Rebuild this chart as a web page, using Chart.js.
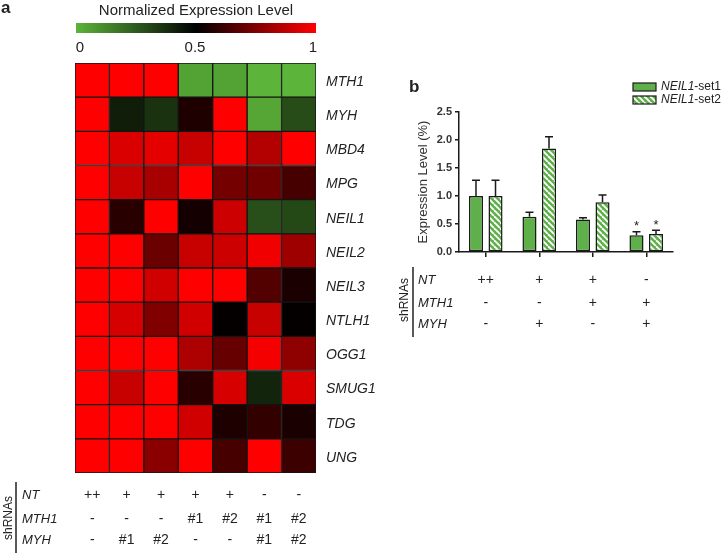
<!DOCTYPE html>
<html>
<head>
<meta charset="utf-8">
<script src="https://cdn.jsdelivr.net/npm/chart.js@4/dist/chart.umd.min.js"></script>
<style>
  body { margin:0; background:#fff; }
  #wrap { position:relative; width:723px; height:553px; }
  #heat { position:absolute; left:0; top:0; }
  #bars { position:absolute; left:380px; top:0; }
</style>
</head>
<body>
<div id="wrap">
  <canvas id="heat" width="380" height="553"></canvas>
  <canvas id="bars" width="343" height="553"></canvas>
</div>
<script>
// ---- panel a data ----
var columns = ['c1','c2','c3','c4','c5','c6','c7'];
var genes = ['MTH1','MYH','MBD4','MPG','NEIL1','NEIL2','NEIL3','NTLH1','OGG1','SMUG1','TDG','UNG'];
var expression = [
  [1, 1, 1, 0.05, 0.05, 0.0, 0.0],       // MTH1
  [1, 0.42, 0.36, 0.56, 1, 0.04, 0.29],  // MYH
  [1, 0.93, 0.95, 0.89, 1, 0.85, 1],     // MBD4
  [1, 0.89, 0.83, 1, 0.73, 0.72, 0.64],  // MPG
  [1, 0.58, 1, 0.54, 0.9, 0.28, 0.3],    // NEIL1
  [1, 1, 0.71, 0.89, 0.9, 0.97, 0.81],   // NEIL2
  [1, 1, 0.91, 1, 1, 0.66, 0.55],        // NEIL3
  [1, 0.92, 0.75, 0.91, 0.51, 0.89, 0.51], // NTLH1
  [1, 1, 1, 0.84, 0.7, 0.98, 0.78],      // OGG1
  [1, 0.89, 1, 0.58, 0.92, 0.4, 0.93],   // SMUG1
  [1, 1, 1, 0.91, 0.56, 0.6, 0.55],      // TDG
  [1, 1, 0.77, 1, 0.64, 1, 0.62]         // UNG
];
var ntA   = ['++','+','+','+','+','-','-'];
var mth1A = ['-','-','-','#1','#2','#1','#2'];
var myhA  = ['-','#1','#2','-','-','#1','#2'];

// ---- panel b data ----
var groups = ['g1','g2','g3','g4'];
var set1 = [1.0, 0.63, 0.58, 0.30];
var set1Err = [0.28, 0.08, 0.03, 0.06];
var set2 = [1.0, 1.85, 0.89, 0.32];
var set2Err = [0.28, 0.21, 0.13, 0.07];
var stars = ['', '', '', '*'];
var ntB   = ['++','+','+','-'];
var mth1B = ['-','-','+','+'];
var myhB  = ['-','+','-','+'];

var FONT = "'Liberation Sans', Arial, sans-serif";
var GREEN = [92, 180, 58];

function heatColor(v){
  var r, g, b;
  if (v < 0.5) {
    var t = (0.5 - v) / 0.5;
    r = GREEN[0]*t; g = GREEN[1]*t; b = GREEN[2]*t;
  } else {
    var t2 = (v - 0.5) / 0.5;
    r = 255*t2; g = 0; b = 0;
  }
  return 'rgb(' + Math.round(r) + ',' + Math.round(g) + ',' + Math.round(b) + ')';
}

// stacked bars, one dataset per gene (bottom row first)
var heatSets = [];
for (var k = genes.length - 1; k >= 0; k--) {
  heatSets.push({
    label: genes[k],
    data: columns.map(function(){ return 1; }),
    backgroundColor: expression[k].map(heatColor),
    borderColor: '#141414',
    borderWidth: 1,
    borderSkipped: false,
    categoryPercentage: 1,
    barPercentage: 1
  });
}

var heatDecor = {
  id: 'heatDecor',
  afterDraw: function(chart){
    var ctx = chart.ctx;
    var xs = chart.scales.x;
    ctx.save();
    ctx.fillStyle = '#222';
    // panel letter
    ctx.font = 'bold 17px ' + FONT;
    ctx.textAlign = 'left'; ctx.textBaseline = 'middle';
    ctx.fillText('a', 1, 8);
    // colour bar
    ctx.font = '15px ' + FONT;
    ctx.textAlign = 'center';
    ctx.fillText('Normalized Expression Level', 196, 11);
    var grad = ctx.createLinearGradient(76, 0, 316, 0);
    grad.addColorStop(0, heatColor(0));
    grad.addColorStop(0.5, heatColor(0.5));
    grad.addColorStop(1, heatColor(1));
    ctx.fillStyle = grad;
    ctx.fillRect(76, 23, 240, 10);
    ctx.fillStyle = '#222';
    ctx.fillText('0', 80, 48);
    ctx.fillText('0.5', 195, 48);
    ctx.fillText('1', 313, 48);
    // shRNA table
    var rows = [ntA, mth1A, myhA];
    var names = ['NT', 'MTH1', 'MYH'];
    var ys = [495, 519, 540];
    for (var r = 0; r < 3; r++) {
      ctx.font = 'italic 13px ' + FONT;
      ctx.textAlign = 'left';
      ctx.fillText(names[r], 22, ys[r]);
      ctx.font = '14px ' + FONT;
      ctx.textAlign = 'center';
      for (var i = 0; i < columns.length; i++) {
        ctx.fillText(rows[r][i], xs.getPixelForValue(i), ys[r]);
      }
    }
    ctx.strokeStyle = '#222'; ctx.lineWidth = 1.5;
    ctx.beginPath(); ctx.moveTo(16, 482); ctx.lineTo(16, 553); ctx.stroke();
    ctx.translate(9, 518); ctx.rotate(-Math.PI/2);
    ctx.font = '12px ' + FONT; ctx.textAlign = 'center';
    ctx.fillText('shRNAs', 0, 0);
    ctx.restore();
  }
};

new Chart(document.getElementById('heat'), {
  type: 'bar',
  data: { labels: columns, datasets: heatSets },
  options: {
    responsive: false,
    animation: false,
    layout: { padding: { left: 75, top: 63, bottom: 80, right: 0 } },
    plugins: { legend: { display: false }, tooltip: { enabled: false } },
    scales: {
      x: { stacked: true, display: false },
      y: {
        stacked: true, position: 'right', min: 0, max: 12,
        afterFit: function(s){ s.width = 64; },
        afterBuildTicks: function(s){
          s.ticks = genes.map(function(g, i){ return { value: i + 0.5 }; });
        },
        grid: { display: false, drawTicks: false },
        border: { display: false },
        ticks: {
          padding: 10,
          labelOffset: 2,
          color: '#222',
          font: { family: FONT, size: 14, style: 'italic' },
          callback: function(v){ return genes[genes.length - 1 - Math.floor(v)]; }
        }
      }
    }
  },
  plugins: [heatDecor]
});

// ---- panel b ----
var BARGREEN = '#5fb04a';
function stripePattern(){
  var c = document.createElement('canvas');
  c.width = 6; c.height = 6;
  var p = c.getContext('2d');
  p.fillStyle = BARGREEN; p.fillRect(0, 0, 6, 6);
  p.strokeStyle = '#fff'; p.lineWidth = 1.8;
  for (var k = -1; k <= 1; k++) {
    p.beginPath(); p.moveTo(k*6, 0); p.lineTo(k*6 + 6, 6); p.stroke();
  }
  return p.createPattern(c, 'repeat');
}
var hatch = stripePattern();

var barDecor = {
  id: 'barDecor',
  afterDatasetsDraw: function(chart){
    var ctx = chart.ctx;
    var ys = chart.scales.y;
    var errs = [set1Err, set2Err];
    var vals = [set1, set2];
    ctx.save();
    ctx.strokeStyle = '#1a1a1a'; ctx.lineWidth = 1.5;
    ctx.fillStyle = '#222';
    for (var d = 0; d < 2; d++) {
      var meta = chart.getDatasetMeta(d);
      meta.data.forEach(function(el, i){
        var top = ys.getPixelForValue(vals[d][i] + errs[d][i]);
        ctx.beginPath();
        ctx.moveTo(el.x, el.y); ctx.lineTo(el.x, top);
        ctx.moveTo(el.x - 4, top); ctx.lineTo(el.x + 4, top);
        ctx.stroke();
        if (stars[i]) {
          ctx.font = '13px ' + FONT; ctx.textAlign = 'center'; ctx.textBaseline = 'middle';
          ctx.fillText(stars[i], el.x, top - 5);
        }
      });
    }
    ctx.restore();
  },
  afterDraw: function(chart){
    var ctx = chart.ctx;
    var xs = chart.scales.x;
    ctx.save();
    ctx.fillStyle = '#222';
    ctx.textBaseline = 'middle';
    ctx.font = 'bold 17px ' + FONT;
    ctx.textAlign = 'left';
    ctx.fillText('b', 29, 87);
    // legend
    var items = [['-set1', BARGREEN], ['-set2', hatch]];
    for (var j = 0; j < 2; j++) {
      var y = 83 + j * 13;
      ctx.fillStyle = items[j][1];
      ctx.fillRect(253, y, 23, 8);
      ctx.strokeStyle = '#1a1a1a'; ctx.lineWidth = 1.2;
      ctx.strokeRect(253, y, 23, 8);
      ctx.fillStyle = '#222';
      ctx.font = 'italic 12px ' + FONT;
      ctx.fillText('NEIL1', 281, y + 4);
      var w = ctx.measureText('NEIL1').width;
      ctx.font = '12px ' + FONT;
      ctx.fillText(items[j][0], 281 + w, y + 4);
    }
    // shRNA table
    var rows = [ntB, mth1B, myhB];
    var names = ['NT', 'MTH1', 'MYH'];
    var ry = [280, 303, 324];
    for (var r = 0; r < 3; r++) {
      ctx.font = 'italic 13px ' + FONT; ctx.textAlign = 'left';
      ctx.fillText(names[r], 38, ry[r]);
      ctx.font = '14px ' + FONT; ctx.textAlign = 'center';
      for (var i = 0; i < groups.length; i++) {
        ctx.fillText(rows[r][i], xs.getPixelForValue(i), ry[r]);
      }
    }
    ctx.strokeStyle = '#222'; ctx.lineWidth = 1.5;
    ctx.beginPath(); ctx.moveTo(33, 267); ctx.lineTo(33, 337); ctx.stroke();
    ctx.translate(25, 300); ctx.rotate(-Math.PI/2);
    ctx.font = '12px ' + FONT; ctx.textAlign = 'center';
    ctx.fillText('shRNAs', 0, 0);
    ctx.restore();
  }
};

new Chart(document.getElementById('bars'), {
  type: 'bar',
  data: {
    labels: groups,
    datasets: [
      { label: 'NEIL1-set1', data: set1, backgroundColor: BARGREEN, borderColor: '#1a1a1a', borderWidth: 1.5, borderSkipped: false },
      { label: 'NEIL1-set2', data: set2, backgroundColor: hatch, borderColor: '#1a1a1a', borderWidth: 1.5, borderSkipped: false }
    ]
  },
  options: {
    responsive: false,
    animation: false,
    categoryPercentage: 0.73,
    barPercentage: 0.72,
    layout: { padding: { left: 0, top: 112, right: 50, bottom: 0 } },
    plugins: { legend: { display: false }, tooltip: { enabled: false } },
    scales: {
      x: {
        afterFit: function(s){ s.height = 301; },
        grid: { offset: false, drawOnChartArea: false, drawTicks: true, tickLength: 5, color: '#1a1a1a', lineWidth: 1.5 },
        border: { color: '#1a1a1a', width: 1.5 },
        ticks: { display: false }
      },
      y: {
        min: 0, max: 2.5,
        afterFit: function(s){ s.width = 79; },
        grid: { drawOnChartArea: false, drawTicks: true, tickLength: 4, color: '#1a1a1a', lineWidth: 1.5 },
        border: { color: '#1a1a1a', width: 1.5 },
        ticks: {
          stepSize: 0.5, padding: 3, color: '#333',
          font: { family: FONT, size: 11, weight: 'bold' },
          callback: function(v){ return v.toFixed(1); }
        },
        title: {
          display: true, text: 'Expression Level (%)', color: '#333',
          font: { family: FONT, size: 13 }, padding: { top: 36 }
        }
      }
    }
  },
  plugins: [barDecor]
});
</script>
</body>
</html>
